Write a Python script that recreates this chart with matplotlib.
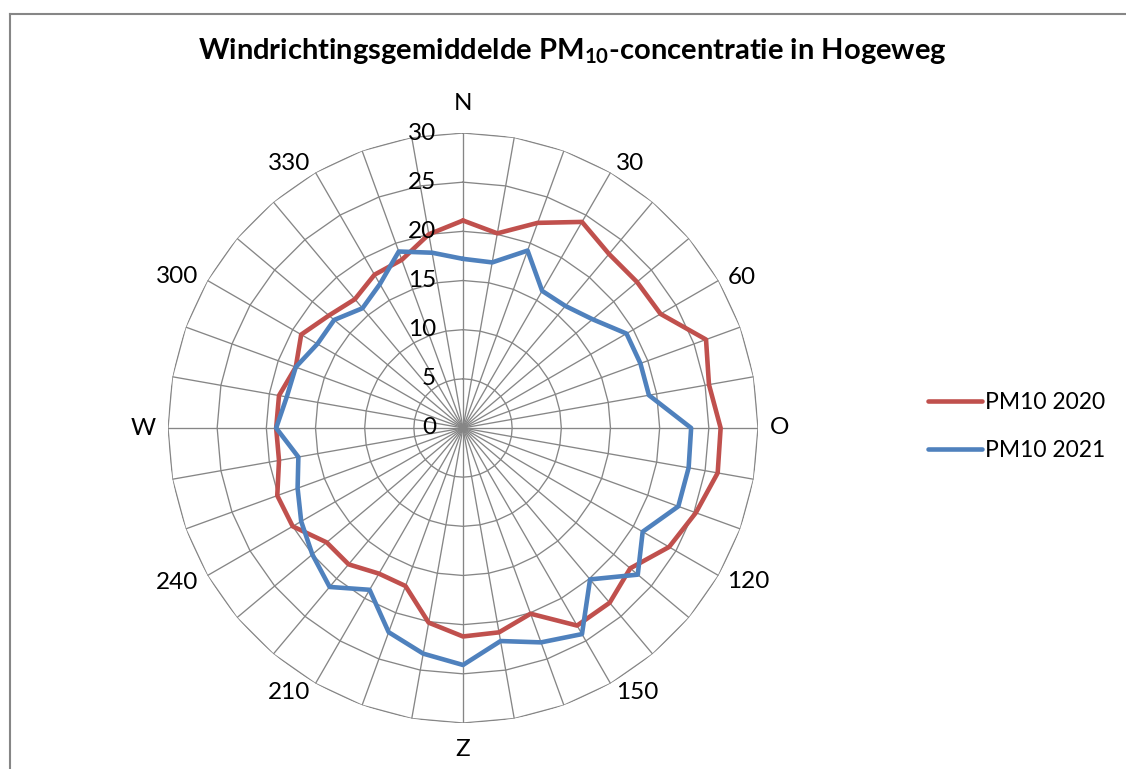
import numpy as np
import matplotlib
matplotlib.use("Agg")
import matplotlib.pyplot as plt
from matplotlib.lines import Line2D
from matplotlib.transforms import offset_copy

# Wind direction sectors (degrees) and the mean PM10 concentration per sector
directions = list(range(0, 360, 10))
pm10_2020 = [21.1, 20.1, 22.2, 24.2, 23.1, 23.1, 23.2, 26.3, 25.4, 26.2,
             26.3, 25.2, 24.2, 22.2, 23.2, 23.2, 20.1, 21.1, 21.2, 20.1,
             17.1, 17.1, 18.1, 18.1, 20.0, 20.1, 19.0, 19.0, 19.0, 18.1,
             19.0, 17.8, 17.1, 18.0, 18.2, 20.0]
pm10_2021 = [17.2, 17.1, 19.2, 16.1, 16.2, 17.2, 19.2, 19.2, 19.2, 23.2,
             23.3, 23.3, 21.1, 23.2, 20.1, 24.2, 23.2, 22.0, 24.1, 23.3,
             22.1, 19.0, 21.1, 20.0, 19.0, 17.9, 17.0, 19.0, 18.2, 18.1,
             17.1, 17.1, 15.9, 16.9, 19.1, 18.1]
series_names = ["PM10 2020", "PM10 2021"]
series_colors = ["#C0504D", "#4F81BD"]

# Labelled directions around the outside
label_dirs = [0, 30, 60, 90, 120, 150, 180, 210, 240, 270, 300, 330]
label_text = ["N", "30", "60", "O", "120", "150", "Z", "210", "240", "W", "300", "330"]
ring_values = [5, 10, 15, 20, 25, 30]
ring_labels = [0, 5, 10, 15, 20, 25, 30]

FONT = "Lato"
plt.rcParams["font.family"] = [FONT, "DejaVu Sans"]
plt.rcParams["mathtext.fontset"] = "custom"
plt.rcParams["mathtext.rm"] = FONT
plt.rcParams["mathtext.bf"] = FONT + ":bold"

W, H = 1126, 769
fig = plt.figure(figsize=(W / 100, H / 100), dpi=100)
fig.patch.set_facecolor("white")

cx, cy, R = 463, 428, 295
ax = fig.add_axes([(cx - R) / W, (H - cy - R) / H, 2 * R / W, 2 * R / H],
                  projection="polar")
ax.set_theta_zero_location("N")
ax.set_theta_direction(-1)
ax.set_ylim(0, 30)
ax.grid(False)
ax.set_xticks([])
ax.set_yticks([])
ax.spines["polar"].set_visible(False)
ax.patch.set_alpha(0)

theta = np.deg2rad(directions)
theta_closed = np.append(theta, theta[0])
grid_col = "#868686"

# Polygonal rings and spokes
for v in ring_values:
    ax.plot(theta_closed, [v] * len(theta_closed), color=grid_col, lw=0.95, zorder=1)
for t in theta:
    ax.plot([t, t], [0, 30], color=grid_col, lw=0.95, zorder=1)

# Data series
for vals, name, col in zip([pm10_2020, pm10_2021], series_names, series_colors):
    closed = list(vals) + [vals[0]]
    ax.plot(theta_closed, closed, color=col, lw=3.3, label=name,
            solid_joinstyle="round", solid_capstyle="round", zorder=3)

LABEL_FS = 17.5

# Ring value labels along the north spoke
tr = offset_copy(ax.transData, fig=fig, x=-27, y=0, units="dots")
for v in ring_labels:
    ax.text(0, v, str(v), transform=tr, ha="right", va="center",
            fontsize=LABEL_FS, color="black", zorder=4)

# Direction labels, anchored just outside the outer ring
def label_anchor(deg):
    s, c = np.sin(np.deg2rad(deg)), np.cos(np.deg2rad(deg))
    if abs(s) < 0.1:
        return "center", (0, 30 if c > 0 else -27)
    ha = "left" if s > 0 else "right"
    if abs(c) < 0.1:
        dx, dy = 12, 0
    elif abs(c) < 0.7:
        dx, dy = 9, 3.5 if c > 0 else -6.5
    else:
        dx, dy = 5.5, 9.5 if c > 0 else -9.5
    return ha, (dx if s > 0 else -dx, dy)

for d, s in zip(label_dirs, label_text):
    ha, (dx, dy) = label_anchor(d)
    ltr = offset_copy(ax.transData, fig=fig, x=dx, y=dy, units="dots")
    ax.text(np.deg2rad(d), 30, s, transform=ltr, ha=ha, va="center",
            fontsize=LABEL_FS, color="black")

# Title
fig.text(572.5 / W, 1 - 59 / H,
         r"Windrichtingsgemiddelde PM$_{\mathbf{10}}$-concentratie in Hogeweg",
         ha="center", va="baseline", fontsize=21, fontweight="bold")

# Legend
LEG_FS = 16.5
handles = [Line2D([0], [0], color=c, lw=3.3, solid_capstyle="round")
           for c in series_colors]
fig.legend(handles, series_names, loc="center left",
           bbox_to_anchor=(928 / W, 1 - 426.5 / H), frameon=False,
           fontsize=LEG_FS, handlelength=2.36, handletextpad=0.13,
           labelspacing=1.14, borderpad=0, borderaxespad=0)

# Chart-area border (left and top edges)
fig.add_artist(Line2D([9.5 / W, 9.5 / W], [0, 1 - 14 / H], transform=fig.transFigure,
                      color=grid_col, lw=1.5))
fig.add_artist(Line2D([9.5 / W, 1], [1 - 14 / H, 1 - 14 / H], transform=fig.transFigure,
                      color=grid_col, lw=1.5))

fig.savefig("out.png", dpi=100, facecolor="white")
